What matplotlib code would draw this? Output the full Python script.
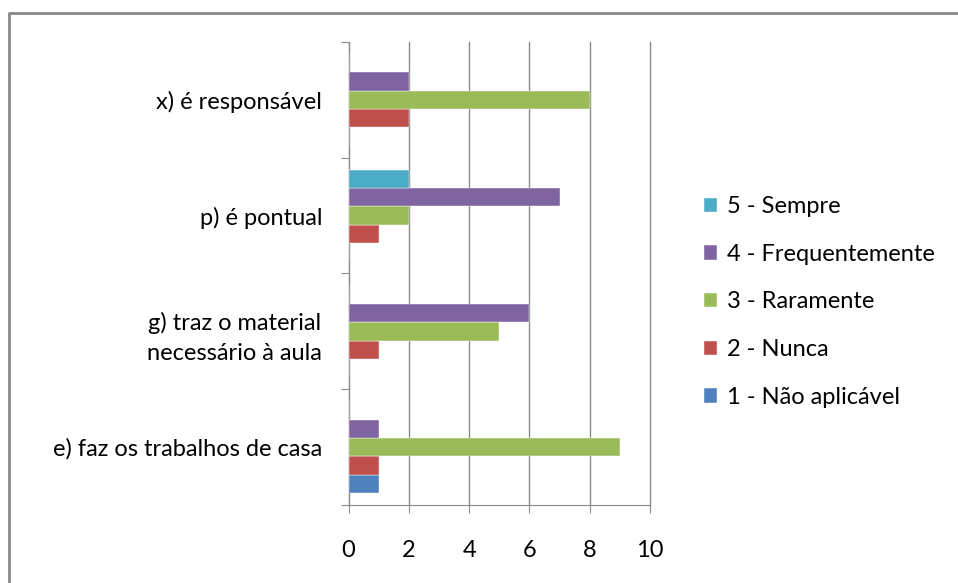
import matplotlib.pyplot as plt
from matplotlib.lines import Line2D
import numpy as np

categories = ['e) faz os trabalhos de casa',
              'g) traz o material\nnecessário à aula',
              'p) é pontual',
              'x) é responsável']
series = ['1 - Não aplicável', '2 - Nunca', '3 - Raramente',
          '4 - Frequentemente', '5 - Sempre']
nao_aplicavel = [1, 0, 0, 0]
nunca = [1, 1, 1, 2]
raramente = [9, 5, 2, 8]
frequentemente = [1, 6, 7, 2]
sempre = [0, 0, 2, 0]
values = [nao_aplicavel, nunca, raramente, frequentemente, sempre]
colors = ['#4F81BD', '#C0504D', '#9BBB59', '#8064A2', '#4BACC6']

plt.rcParams['font.family'] = ['Lato', 'DejaVu Sans']
fs = 17
grey = '#8c8c8c'

fig = plt.figure(figsize=(9.58, 5.83), dpi=100)
ax = fig.add_axes([0.3638, 0.1338, 0.3147, 0.7942])

y = np.arange(len(categories))
h = 0.158
for i, (vals, name, c) in enumerate(zip(values, series, colors)):
    ax.barh(y + (i - 2) * h, vals, height=h, color=c, label=name,
            edgecolor='white', linewidth=0.3, zorder=3)

ax.set_xlim(0, 10)
ax.set_ylim(-0.5, len(categories) - 0.5)
ax.set_xticks(range(0, 11, 2))
ax.tick_params(axis='x', direction='out', length=6, color=grey,
               labelsize=fs, pad=19)
ax.set_yticks(np.arange(-0.5, len(categories), 1.0))
ax.set_yticklabels([])
ax.set_yticks(y, minor=True)
ax.set_yticklabels(categories, minor=True, fontsize=fs)
ax.tick_params(axis='y', which='major', direction='out', length=6, color=grey)
ax.tick_params(axis='y', which='minor', length=0, pad=19)
for lab in ax.get_yticklabels(minor=True):
    lab.set_horizontalalignment('right')
    lab.set_multialignment('center')
    lab.set_linespacing(1.55)
ax.grid(axis='x', color=grey, linewidth=1, zorder=0)
for gl in ax.get_xgridlines():
    gl.set_clip_on(False)
for s in ['top', 'right']:
    ax.spines[s].set_visible(False)
for s in ['left', 'bottom']:
    ax.spines[s].set_color(grey)

handles, labels = ax.get_legend_handles_labels()
fig.legend(handles[::-1], labels[::-1], loc='center left',
           bbox_to_anchor=(0.735, 0.482), frameon=False, fontsize=fs,
           handlelength=0.55, handleheight=0.55, handletextpad=0.4,
           labelspacing=1.13, borderpad=0, borderaxespad=0)

fig.add_artist(Line2D([0.0095, 0.0095, 1.0], [0.0, 0.978, 0.978],
                      transform=fig.transFigure, color='#888888', linewidth=2))

fig.savefig('out.png', dpi=100)
